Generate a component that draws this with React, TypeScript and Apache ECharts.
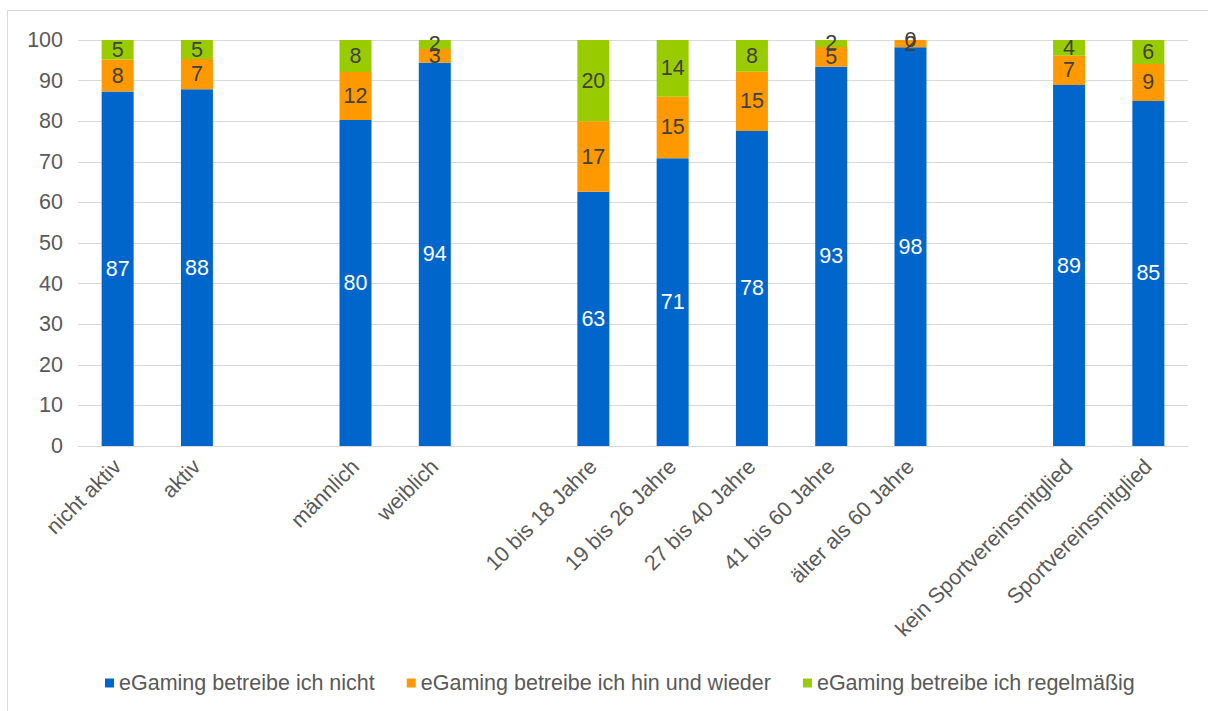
import React, { useEffect, useRef } from "react";
import * as echarts from "echarts";

const categories = [
  "nicht aktiv", "aktiv", "",
  "männlich", "weiblich", "",
  "10 bis 18 Jahre", "19 bis 26 Jahre", "27 bis 40 Jahre", "41 bis 60 Jahre", "älter als 60 Jahre", "",
  "kein Sportvereinsmitglied", "Sportvereinsmitglied",
];
const seriesNames = [
  "eGaming betreibe ich nicht",
  "eGaming betreibe ich hin und wieder",
  "eGaming betreibe ich regelmäßig",
];
const nicht = [87.3, 87.9, null, 80.3, 94.4, null, 62.6, 70.9, 77.6, 93.4, 98.2, null, 88.9, 85.0];
const hinUndWieder = [7.9, 7.4, null, 11.8, 3.4, null, 17.4, 15.1, 14.6, 4.9, 1.8, null, 7.2, 9.1];
const regelmaessig = [4.8, 4.7, null, 7.9, 2.2, null, 20.0, 14.0, 7.8, 1.7, 0, null, 3.9, 5.9];
const yTicks = { min: 0, max: 100, interval: 10 };
const colors = ["#0066CC", "#FF9900", "#99CC00"];

const FONT = "Liberation Sans, Arial, sans-serif";
const FS = 21.5;

export default function App() {
  const ref = useRef<HTMLDivElement>(null);
  useEffect(() => {
    const chart = echarts.init(ref.current!, null, { renderer: "svg" });
    const mk = (name: string, data: (number | null)[], color: string, labelColor: string) => ({
      name,
      type: "bar",
      stack: "total",
      data,
      barWidth: 32,
      itemStyle: { color },
      label: {
        show: true,
        position: "inside",
        color: labelColor,
        fontSize: FS,
        fontFamily: FONT,
        formatter: (p: any) => (p.value == null ? "" : String(Math.round(p.value))),
      },
    });
    chart.setOption({
      animation: false,
      textStyle: { fontFamily: FONT },
      color: colors,
      graphic: [
        {
          type: "rect",
          shape: { x: 7.5, y: 10.5, width: 1400, height: 900 },
          style: { fill: "none", stroke: "#d9d9d9", lineWidth: 1 },
          silent: true,
        },
      ],
      grid: { left: 78, right: 20, top: 40, bottom: 265, containLabel: false },
      legend: {
        top: 667,
        left: 100,
        itemWidth: 9,
        itemHeight: 9,
        itemGap: 32,
        icon: "rect",
        textStyle: { color: "#595959", fontSize: FS, fontFamily: FONT },
        data: seriesNames,
      },
      xAxis: {
        type: "category",
        data: categories,
        axisLine: { lineStyle: { color: "#d9d9d9", width: 1 } },
        axisTick: { show: false },
        axisLabel: {
          rotate: 45,
          interval: 0,
          color: "#595959",
          fontSize: FS,
          fontFamily: FONT,
          margin: 17,
        },
      },
      yAxis: {
        type: "value",
        min: yTicks.min,
        max: yTicks.max,
        interval: yTicks.interval,
        axisLine: { show: false },
        axisTick: { show: false },
        splitLine: { lineStyle: { color: "#d9d9d9", width: 1 } },
        axisLabel: { color: "#595959", fontSize: FS, fontFamily: FONT, margin: 15 },
      },
      series: [
        mk(seriesNames[0], nicht, colors[0], "#ffffff"),
        mk(seriesNames[1], hinUndWieder, colors[1], "#404040"),
        mk(seriesNames[2], regelmaessig, colors[2], "#404040"),
      ],
    });
    return () => chart.dispose();
  }, []);
  return (
    <div
      ref={ref}
      style={{ position: "fixed", left: 0, top: 0, width: 1208, height: 711, background: "#fff" }}
    />
  );
}
